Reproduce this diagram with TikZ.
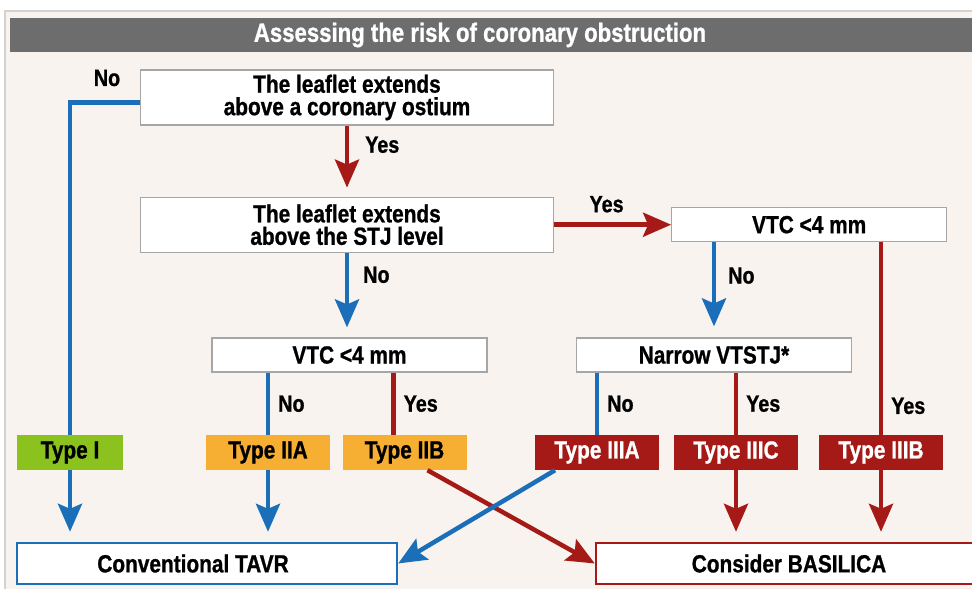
\documentclass[tikz,border=0pt]{standalone}
\usepackage{xcolor}
\usepackage{fontspec}
\setmainfont{Liberation Sans}[FakeStretch=0.84, BoldFeatures={FakeBold=0.9}]
\usepackage{tikz}
\usetikzlibrary{arrows.meta, positioning}

\definecolor{panel}{HTML}{F8F3EF}
\definecolor{panelline}{HTML}{D2D2D2}
\definecolor{titlegray}{HTML}{6D6D6D}
\definecolor{boxgray}{HTML}{A6A6A6}
\definecolor{noblue}{HTML}{1B6FB8}
\definecolor{yesred}{HTML}{A51A16}
\definecolor{typegreen}{HTML}{8CC21E}
\definecolor{typeorange}{HTML}{F6AF33}

\begin{document}
\begin{tikzpicture}[
    x=1pt, y=-1pt,
    font=\fontsize{24.8}{22.5}\selectfont\bfseries,
    question/.style={rectangle, draw=boxgray, line width=1.2pt, fill=white, minimum width=413pt, minimum height=55pt, align=center, inner sep=0pt},
    test/.style={question, minimum width=275pt, minimum height=34pt},
    typebox/.style={rectangle, minimum width=124pt, minimum height=35pt, inner sep=0pt},
    outcome/.style={rectangle, fill=white, line width=2.4pt, minimum height=41pt, inner sep=0pt},
    noline/.style={draw=noblue, line width=4.5pt},
    yesline/.style={draw=yesred, line width=4.5pt},
    noarrow/.style={noline, -{Stealth[length=28pt, width=24pt, inset=5pt]}},
    yesarrow/.style={yesline, -{Stealth[length=28pt, width=24pt, inset=5pt]}},
    answer/.style={font=\fontsize{23.5}{23.5}\selectfont\bfseries, inner sep=0pt}
    ]

    % Page and panel
    \useasboundingbox (0,0) rectangle (972,589);
    \clip (0,0) rectangle (972,589);
    \fill[white] (0,0) rectangle (972,589);
    \filldraw[fill=panel, draw=panelline, line width=2pt] (5,11) rectangle (995,600);
    \fill[titlegray] (10,18) rectangle (995,52);
    \node (title) [text=white, font=\fontsize{26.4}{26.4}\selectfont\bfseries] at (480,35) {Assessing the risk of coronary obstruction};

    % Question nodes
    \node (ostium) [question] at (347,97.5) {The leaflet extends\\above a coronary ostium};
    \node (stj) [question, below=71pt of ostium] {The leaflet extends\\above the STJ level};
    \node (vtcR) [test, right=117pt of stj] {VTC <4 mm};
    \node (vtcL) [test] at (349.5,355) {VTC <4 mm};
    \node (narrow) [test] at (714,355) {Narrow VTSTJ*};

    % Type nodes
    \node (t1) [typebox, fill=typegreen, minimum width=106pt] at (70,452.5) {Type I};
    \node (t2a) [typebox, fill=typeorange] at (268,452.5) {Type IIA};
    \node (t2b) [typebox, fill=typeorange] at (404.5,452.5) {Type IIB};
    \node (t3a) [typebox, fill=yesred, text=white] at (597,452.5) {Type IIIA};
    \node (t3c) [typebox, fill=yesred, text=white] at (736,452.5) {Type IIIC};
    \node (t3b) [typebox, fill=yesred, text=white] at (881,452.5) {Type IIIB};

    % Outcome nodes
    \node (tavr) [outcome, draw=noblue, minimum width=380pt] at (207,563.5) {Conventional TAVR\hspace*{28pt}};
    \node (basilica) [outcome, draw=yesred, minimum width=386pt] at (789,563.5) {Consider BASILICA};

    % Answers from the first two questions
    \draw[noline] ([yshift=-5pt]ostium.west) -| (t1.north);
    \node (no1) [answer] at (107,78) {No};
    \draw[yesarrow, shorten >=9pt] (ostium) -- (stj) node[answer, pos=0.27, right=16pt] {Yes};
    \draw[yesarrow] (stj) -- (vtcR) node[answer, midway, above=10pt, xshift=-6pt] {Yes};
    \draw[noarrow, shorten >=10pt] (stj.south) -- (stj.south |- vtcL.north) node[answer, pos=0.26, right=14pt] {No};
    \draw[noarrow, shorten >=11pt] (narrow.north |- vtcR.south) -- (narrow.north) node[answer, pos=0.35, right=12pt] {No};

    % Answers to the VTC and VTSTJ checks
    \draw[noline] (t2a.north |- vtcL.south) -- (t2a.north) node[answer, midway, right=8pt] {No};
    \draw[yesline] ([xshift=-11pt]t2b.north |- vtcL.south) -- ([xshift=-11pt]t2b.north) node[answer, midway, right=8pt] {Yes};
    \draw[noline] (t3a.north |- narrow.south) -- (t3a.north) node[answer, midway, right=8pt] {No};
    \draw[yesline] (t3c.north |- narrow.south) -- (t3c.north) node[answer, midway, right=8pt] {Yes};
    \draw[yesline] (t3b.north |- vtcR.south) -- (t3b.north) node[answer, pos=0.85, right=8pt] {Yes};

    % Arrows to the outcomes
    \draw[noarrow, shorten >=10pt] (t1.south) -- (t1.south |- tavr.north);
    \draw[noarrow, shorten >=10pt] (t2a.south) -- (t2a.south |- tavr.north);
    \draw[yesarrow, shorten >=10pt] (t3c.south) -- (t3c.south |- basilica.north);
    \draw[yesarrow, shorten >=10pt] (t3b.south) -- (t3b.south |- basilica.north);
    \draw[yesarrow] ([xshift=23pt]t2b.south) -- (basilica.west);
    \draw[noarrow] ([xshift=-42pt]t3a.south) -- (tavr.east);
\end{tikzpicture}
\end{document}
